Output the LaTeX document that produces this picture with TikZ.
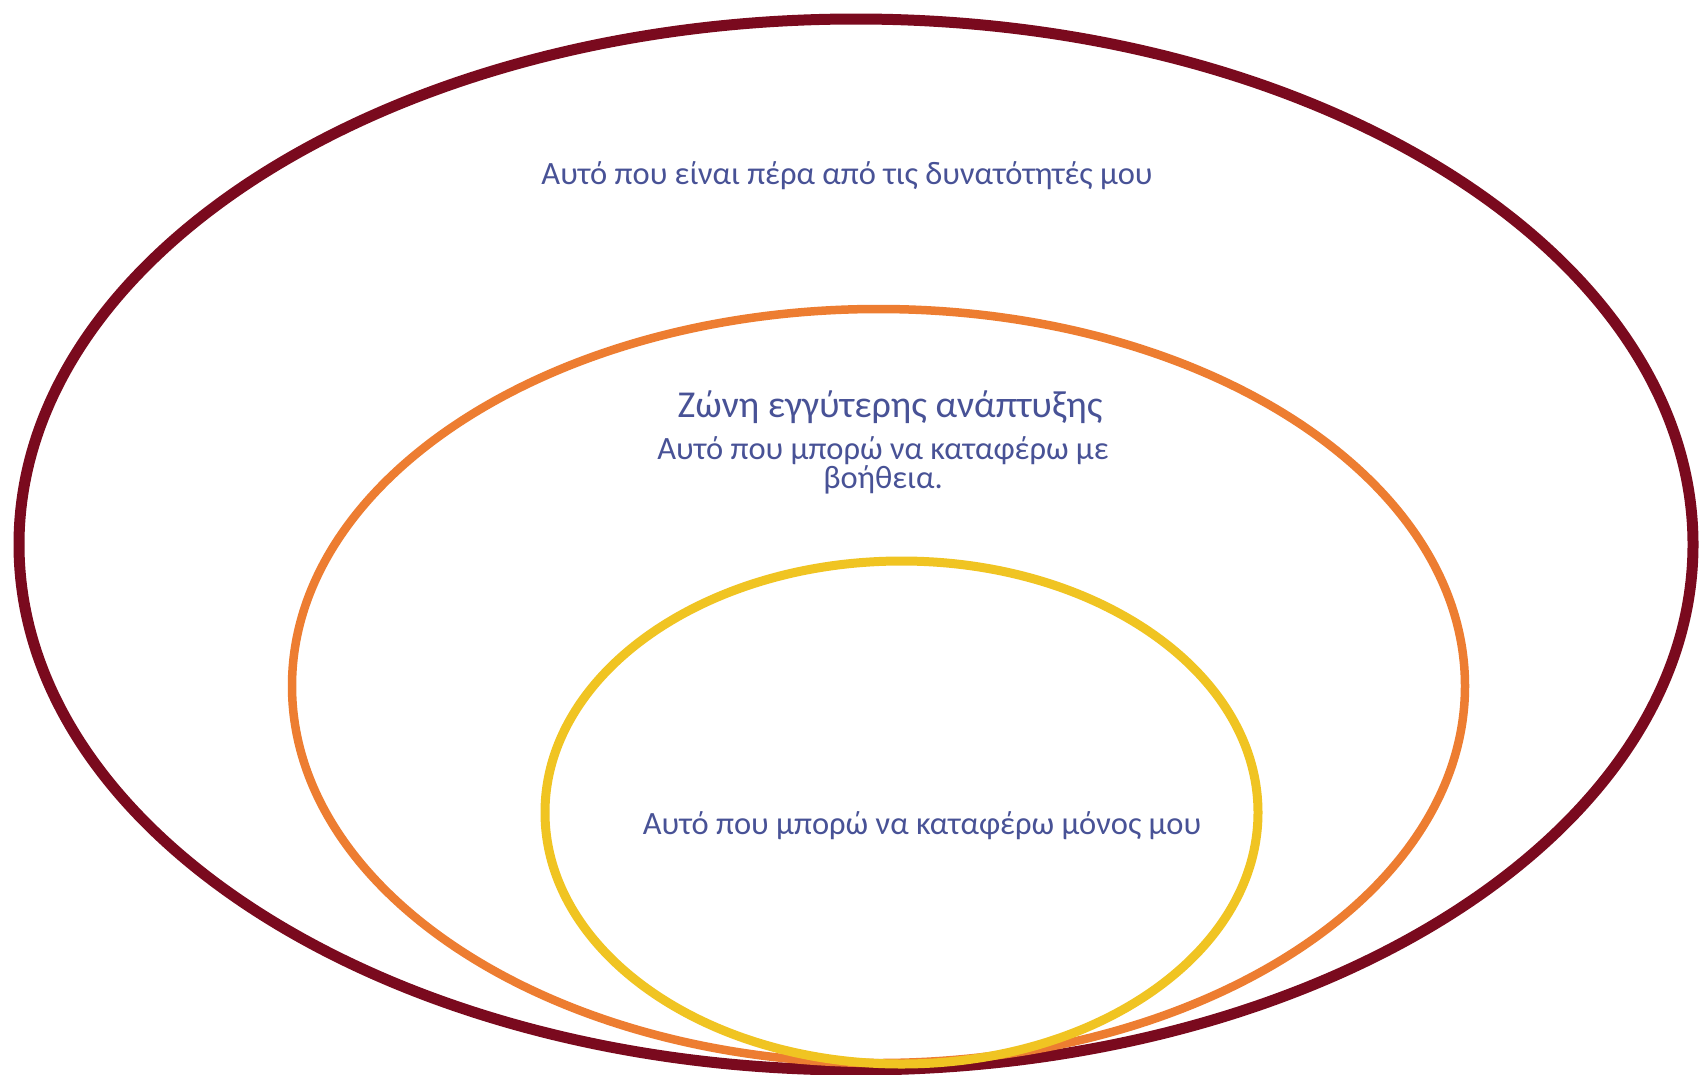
\documentclass[tikz,border=0pt]{standalone}
\usepackage{fontspec}
\setmainfont{Carlito}
\definecolor{outerred}{RGB}{122,10,30}
\definecolor{midorange}{RGB}{237,125,49}
\definecolor{inneryellow}{RGB}{240,196,34}
\definecolor{labelblue}{RGB}{72,82,150}
\tikzset{
  ring/.style={line width=#1},
  lbl/.style={text=labelblue, inner sep=0pt, align=center, font=\fontsize{32.5}{28}\selectfont},
  heading/.style={text=labelblue, inner sep=0pt, font=\fontsize{38}{40}\selectfont}
}
\begin{document}
\begin{tikzpicture}[x=1pt,y=-1pt]
\useasboundingbox (0,0) rectangle (1700,1074);
\fill[white] (0,0) rectangle (1700,1074);
\draw[ring=11pt, outerred] (856,544.5) ellipse [x radius=837, y radius=525.5];
\draw[ring=8.5pt, midorange] (878.5,686) ellipse [x radius=586.5, y radius=377];
\draw[ring=9pt, inneryellow] (901.5,812.5) ellipse [x radius=356.5, y radius=251.5];
\node[lbl] (beyond) at (847,176) {Αυτό που είναι πέρα από τις δυνατότητές μου};
\node[heading] (zone) at (890,407) {Ζώνη εγγύτερης ανάπτυξης};
\node[lbl] (help) at (883,465.5) {Αυτό που μπορώ να καταφέρω με\\βοήθεια.};
\node[lbl] (alone) at (922,826) {Αυτό που μπορώ να καταφέρω μόνος μου};
\end{tikzpicture}
\end{document}
